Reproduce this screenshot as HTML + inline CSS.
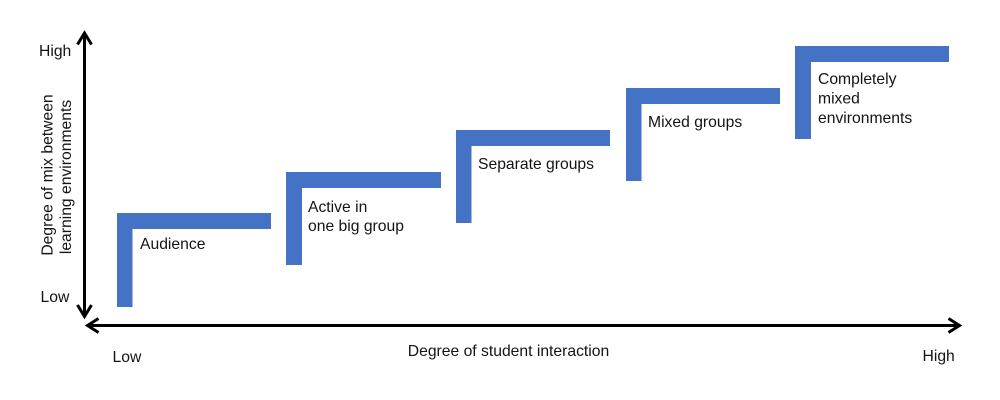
<!DOCTYPE html>
<html>
<head>
<meta charset="utf-8">
<style>
  html, body { margin: 0; padding: 0; background: #ffffff; }
  body { width: 1000px; height: 400px; overflow: hidden; }
  svg { display: block; }
  text { font-family: "Liberation Sans", Arial, sans-serif; font-size: 15.7px; fill: #141414; }
</style>
</head>
<body>
<svg width="1000" height="400" viewBox="0 0 1000 400" xmlns="http://www.w3.org/2000/svg">
  <rect x="0" y="0" width="1000" height="400" fill="#ffffff"/>

  <!-- Steps -->
  <g fill="#4472C4">
    <!-- Audience -->
    <rect x="117" y="213" width="154" height="16"/>
    <rect x="117" y="213" width="15.5" height="94"/>
    <!-- Active in one big group -->
    <rect x="286" y="172" width="155" height="16"/>
    <rect x="286" y="172" width="16" height="93"/>
    <!-- Separate groups -->
    <rect x="456" y="130" width="154" height="16"/>
    <rect x="456" y="130" width="15.5" height="93"/>
    <!-- Mixed groups -->
    <rect x="626" y="88" width="154" height="16"/>
    <rect x="626" y="88" width="15.5" height="93"/>
    <!-- Completely mixed environments -->
    <rect x="795" y="46" width="154" height="16"/>
    <rect x="795" y="46" width="16" height="93"/>
  </g>

  <!-- Axes -->
  <g stroke="#000" stroke-width="3" fill="none" stroke-linecap="butt">
    <line x1="84.5" y1="33" x2="84.5" y2="316.5"/>
    <polyline points="77.5,44.5 84.5,33 91.5,44.5" stroke-linejoin="miter"/>
    <polyline points="77.5,305 84.5,316.5 91.5,305" stroke-linejoin="miter"/>
    <line x1="87.5" y1="325.5" x2="959.5" y2="325.5"/>
    <polyline points="98.5,318.5 87.5,325.5 98.5,332.5" stroke-linejoin="miter"/>
    <polyline points="948.5,318.5 959.5,325.5 948.5,332.5" stroke-linejoin="miter"/>
  </g>

  <!-- Step labels -->
  <text x="140" y="249">Audience</text>
  <text x="308" y="212">Active in</text>
  <text x="308" y="231">one big group</text>
  <text x="478" y="169">Separate groups</text>
  <text x="648" y="127">Mixed groups</text>
  <text x="818" y="84">Completely</text>
  <text x="818" y="103.5">mixed</text>
  <text x="818" y="123">environments</text>

  <!-- Axis labels -->
  <text x="39" y="56">High</text>
  <text x="40.5" y="302">Low</text>
  <text x="112.5" y="362">Low</text>
  <text x="922.5" y="361">High</text>
  <text x="508.5" y="356" text-anchor="middle">Degree of student interaction</text>

  <text x="52.5" y="175" text-anchor="middle" transform="rotate(-90 52.5 175)">Degree of mix between</text>
  <text x="71" y="177" text-anchor="middle" transform="rotate(-90 71 177)">learning environments</text>
</svg>
</body>
</html>
